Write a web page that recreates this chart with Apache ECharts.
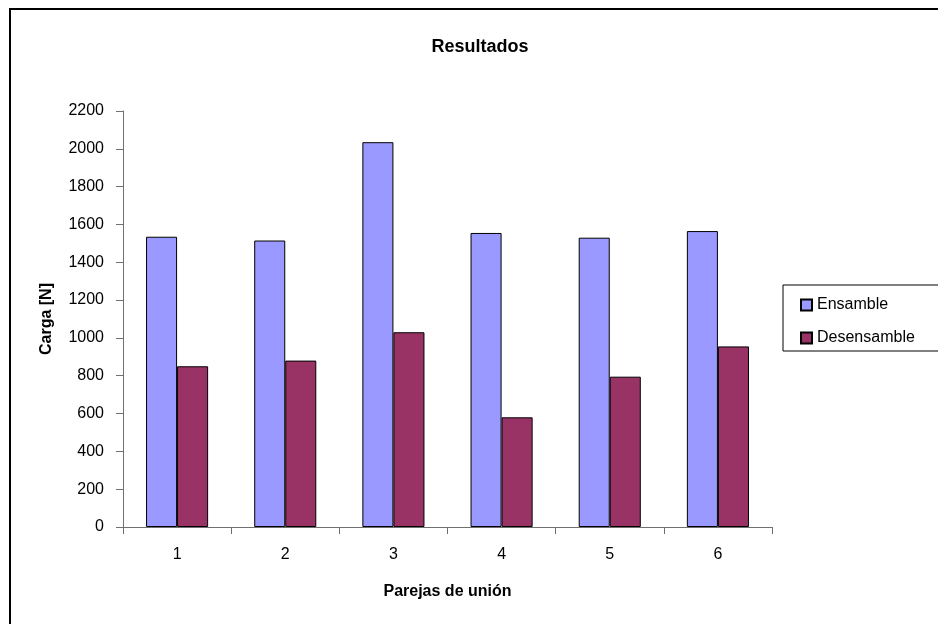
<!DOCTYPE html>
<html>
<head>
<meta charset="utf-8">
<style>
  html, body { margin: 0; padding: 0; background: #fff; }
  #chart { width: 938px; height: 624px; }
</style>
<script src="https://cdn.jsdelivr.net/npm/echarts@6/dist/echarts.min.js"></script>
</head>
<body>
<div id="chart"></div>
<script>
// Pairs tested and measured load in newtons
const categories = ['1', '2', '3', '4', '5', '6'];
const ensamble = [1535, 1515, 2035, 1555, 1530, 1565];
const desensamble = [850, 880, 1030, 580, 795, 955];
const seriesNames = ['Ensamble', 'Desensamble'];

const FONT = '"Liberation Sans", Arial, sans-serif';
const chart = echarts.init(document.getElementById('chart'), null, { renderer: 'canvas' });

chart.setOption({
  backgroundColor: '#ffffff',
  animation: false,
  title: {
    text: 'Resultados',
    left: 475,
    top: 33,
    textAlign: 'center',
    textStyle: { fontFamily: FONT, fontSize: 18, fontWeight: 'bold', color: '#000' }
  },
  graphic: [
    {
      type: 'rect',
      shape: { x: 10, y: 9, width: 960, height: 660 },
      style: { fill: 'none', stroke: '#000', lineWidth: 2 },
      silent: true, z: 0
    },
    {
      type: 'rect',
      shape: { x: 783, y: 285, width: 180, height: 66 },
      style: { fill: '#fff', stroke: '#000', lineWidth: 1 },
      silent: true, z: 1
    }
  ],
  legend: {
    data: seriesNames,
    orient: 'vertical',
    left: 795,
    top: 292,
    itemWidth: 11,
    itemHeight: 11,
    itemGap: 17,
    icon: 'rect',
    textStyle: { fontFamily: FONT, fontSize: 16, color: '#000', padding: [0, 0, 0, 0] },
    z: 5
  },
  grid: { left: 123, right: 166, top: 111, bottom: 97, containLabel: false },
  xAxis: {
    type: 'category',
    data: categories,
    name: 'Parejas de unión',
    nameLocation: 'middle',
    nameGap: 57,
    nameTextStyle: { fontFamily: FONT, fontSize: 16, fontWeight: 'bold', color: '#000' },
    axisLine: { lineStyle: { color: '#707070', width: 1 } },
    axisTick: { show: true, inside: false, length: 7, alignWithLabel: false, lineStyle: { color: '#707070' } },
    axisLabel: { fontFamily: FONT, fontSize: 16, color: '#000', margin: 20 },
    splitLine: { show: false }
  },
  yAxis: {
    type: 'value',
    min: 0,
    max: 2200,
    interval: 200,
    name: 'Carga [N]',
    nameLocation: 'middle',
    nameRotate: 90,
    nameGap: 68,
    nameTextStyle: { fontFamily: FONT, fontSize: 16, fontWeight: 'bold', color: '#000' },
    axisLine: { show: true, lineStyle: { color: '#707070', width: 1 } },
    axisTick: { show: true, inside: false, length: 7, lineStyle: { color: '#707070' } },
    axisLabel: { fontFamily: FONT, fontSize: 16, color: '#000', margin: 19, formatter: (v) => String(v) },
    splitLine: { show: false }
  },
  series: [
    {
      name: seriesNames[0],
      type: 'bar',
      data: ensamble,
      barGap: '0%',
      barCategoryGap: '42.6%',
      itemStyle: { color: '#9999FF', borderColor: '#000', borderWidth: 1 }
    },
    {
      name: seriesNames[1],
      type: 'bar',
      data: desensamble,
      itemStyle: { color: '#993366', borderColor: '#000', borderWidth: 1 }
    }
  ]
});
</script>
</body>
</html>
